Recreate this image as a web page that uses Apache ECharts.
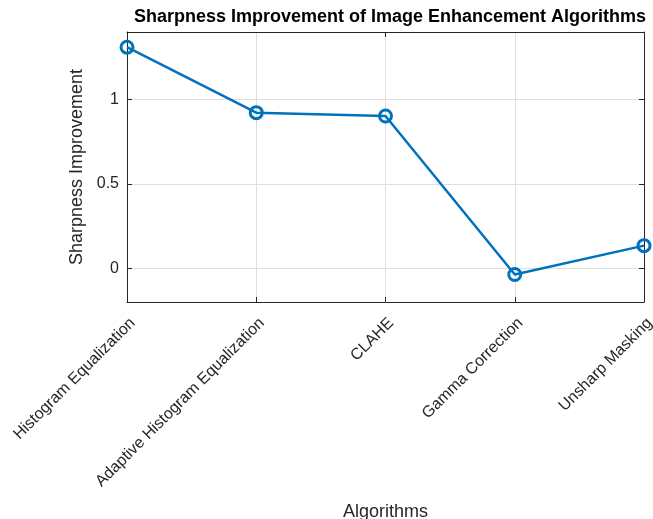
<!DOCTYPE html>
<html>
<head>
<meta charset="utf-8">
<script src="https://cdn.jsdelivr.net/npm/echarts@6/dist/echarts.min.js"></script>
<style>html,body{margin:0;padding:0;background:#fff}#c{width:653px;height:519px}</style>
</head>
<body>
<div id="c"></div>
<script>
const categories = ['Histogram Equalization', 'Adaptive Histogram Equalization', 'CLAHE', 'Gamma Correction', 'Unsharp Masking'];
const sharpness = [1.31, 0.922, 0.902, -0.037, 0.134];
const yTicks = [0, 0.5, 1];

const FONT = '"Liberation Sans", Arial, Helvetica, sans-serif';
const chart = echarts.init(document.getElementById('c'));
const axisColor = '#262626';
const gridColor = '#dfdfdf';
chart.setOption({
  animation: false,
  backgroundColor: '#fff',
  title: {
    text: 'Sharpness Improvement of Image Enhancement Algorithms',
    left: 385, top: 3, textAlign: 'center',
    textStyle: {fontFamily: FONT, fontSize: 18, fontWeight: 'bold', color: '#000'}
  },
  grid: {left: 127, right: 9, top: 32, bottom: 217, containLabel: false, outerBoundsMode: 'none'},
  xAxis: [{
    type: 'category', data: categories, boundaryGap: false,
    name: 'Algorithms', nameLocation: 'middle', nameGap: 201,
    nameTextStyle: {fontFamily: FONT, fontSize: 18, color: axisColor},
    axisLine: {onZero: false, lineStyle: {color: axisColor, width: 1}},
    axisTick: {inside: true, length: 5, alignWithLabel: true, lineStyle: {color: axisColor}},
    axisLabel: {rotate: 45, margin: 13, interval: 0, verticalAlign: 'top', fontFamily: FONT, fontSize: 16, color: axisColor},
    splitLine: {show: true, lineStyle: {color: gridColor, width: 1}}
  }, {
    type: 'category', data: categories, boundaryGap: false, position: 'top',
    axisLine: {onZero: false, lineStyle: {color: axisColor, width: 1}},
    axisTick: {inside: true, length: 5, lineStyle: {color: axisColor}},
    axisLabel: {show: false}, splitLine: {show: false}
  }],
  yAxis: [{
    type: 'value', min: -0.2, max: 1.4,
    name: 'Sharpness Improvement', nameLocation: 'middle', nameGap: 33,
    nameTextStyle: {fontFamily: FONT, fontSize: 18, color: axisColor},
    axisLine: {show: true, onZero: false, lineStyle: {color: axisColor, width: 1}},
    axisTick: {show: true, inside: true, length: 5, customValues: yTicks, lineStyle: {color: axisColor}},
    axisLabel: {customValues: yTicks, margin: 8, fontFamily: FONT, fontSize: 16, color: axisColor},
    splitLine: {show: true, lineStyle: {color: gridColor, width: 1}}
  }, {
    type: 'value', min: -0.2, max: 1.4, position: 'right',
    axisLine: {show: true, onZero: false, lineStyle: {color: axisColor, width: 1}},
    axisTick: {show: true, inside: true, length: 5, customValues: yTicks, lineStyle: {color: axisColor}},
    axisLabel: {show: false}, splitLine: {show: false}
  }],
  series: [{
    type: 'line', data: sharpness, xAxisIndex: 0, yAxisIndex: 0,
    symbol: 'circle', symbolSize: 12,
    lineStyle: {color: '#0072BD', width: 2.5},
    itemStyle: {color: 'rgba(255,255,255,0)', borderColor: '#0072BD', borderWidth: 3},
    z: 5
  }]
});
</script>
</body>
</html>
